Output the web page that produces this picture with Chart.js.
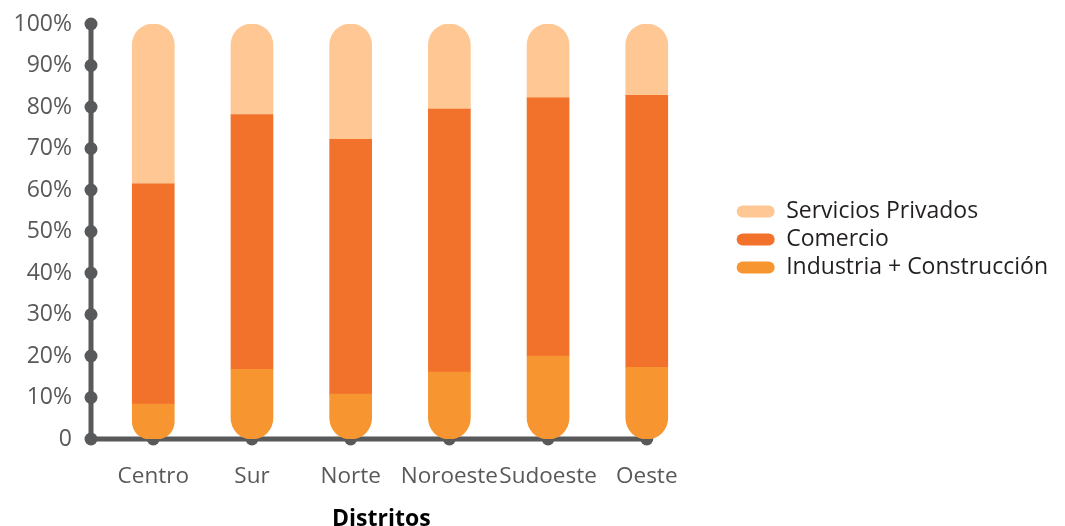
<!DOCTYPE html>
<html>
<head>
<meta charset="utf-8">
<script src="https://cdn.jsdelivr.net/npm/chart.js@4.4.1/dist/chart.umd.min.js"></script>
<style>
  html, body { margin: 0; padding: 0; background: #fff; }
  #wrap { width: 1065px; height: 526px; }
</style>
</head>
<body>
<div id="wrap"><canvas id="chart"></canvas></div>
<script>
// Data (share of each sector, %)
const districts = ['Centro', 'Sur', 'Norte', 'Noroeste', 'Sudoeste', 'Oeste'];
const industria = [8.4, 16.8, 10.8, 16.1, 20.0, 17.3];
const comercio = [53.1, 61.4, 61.4, 63.4, 62.2, 65.5];
const servicios = [38.5, 21.8, 27.8, 20.5, 17.8, 17.2];
const yTicks = [0, 10, 20, 30, 40, 50, 60, 70, 80, 90, 100];

const AXIS = '#58595b';
const FONT = "'Open Sans', sans-serif";

// bars sit on a linear index axis so the y axis can start left of the first bar
const toPoints = (values) => values.map((v, i) => ({ x: i, y: v }));

// Draw the grey axis lines with round dots at each tick
const axisDots = {
    id: 'axisDots',
    beforeDatasetsDraw(chart) {
        const { ctx, scales: { x, y } } = chart;
        const x0 = chart.chartArea.left + 1;
        const y0 = y.getPixelForValue(0);
        const xEnd = x.getPixelForValue(districts.length - 1);
        ctx.save();
        ctx.strokeStyle = AXIS;
        ctx.fillStyle = AXIS;
        ctx.lineWidth = 5;
        ctx.beginPath();
        ctx.moveTo(x0, y.getPixelForValue(100));
        ctx.lineTo(x0, y0);
        ctx.lineTo(xEnd, y0);
        ctx.stroke();
        yTicks.forEach((t) => {
            ctx.beginPath();
            ctx.arc(x0, y.getPixelForValue(t), 6.5, 0, Math.PI * 2);
            ctx.fill();
        });
        districts.forEach((d, i) => {
            ctx.beginPath();
            ctx.arc(x.getPixelForValue(i), y0, 6.5, 0, Math.PI * 2);
            ctx.fill();
        });
        ctx.restore();
    }
};

// the layout caps side boxes at a quarter of the width; let the legend be wider
// and nudge it where the original sits
const wideLegend = {
    id: 'wideLegend',
    beforeUpdate(chart) {
        const lg = chart.legend;
        if (lg && !lg._wide) {
            const update = lg.update;
            const draw = lg.draw;
            lg.update = function (w, h, m) {
                return update.call(this, Math.max(w, 360), h, m);
            };
            lg.draw = function () {
                this.ctx.save();
                this.ctx.translate(59, 8);
                draw.call(this);
                this.ctx.restore();
            };
            lg._wide = true;
        }
    }
};

const ctx = document.getElementById('chart').getContext('2d');
new Chart(ctx, {
    type: 'bar',
    data: {
        datasets: [
            {
                label: 'Industria + Construcción',
                data: toPoints(industria),
                backgroundColor: '#f79631',
                borderRadius: { bottomLeft: 21, bottomRight: 21 },
            },
            {
                label: 'Comercio',
                data: toPoints(comercio),
                backgroundColor: '#f2722c',
                borderRadius: 0,
            },
            {
                label: 'Servicios Privados',
                data: toPoints(servicios),
                backgroundColor: '#fec794',
                borderRadius: { topLeft: 21, topRight: 21 },
            },
        ],
    },
    options: {
        responsive: true,
        maintainAspectRatio: false,
        animation: false,
        devicePixelRatio: 1,
        layout: { padding: { top: 24, right: 66, bottom: 0, left: 0 } },
        datasets: {
            bar: { barThickness: 42, borderSkipped: false, borderWidth: 0 },
        },
        scales: {
            x: {
                type: 'linear',
                stacked: true,
                offset: false,
                bounds: 'data',
                grid: { display: false, drawTicks: false },
                border: { display: false },
                afterDataLimits: (scale) => {
                    // keep ~98.7px between district centres
                    scale.min = -0.641;
                    scale.max = -0.641 + scale.width / 98.7;
                },
                afterBuildTicks: (scale) => {
                    scale.ticks = districts.map((d, i) => ({ value: i }));
                },
                afterFit: (scale) => {
                    scale.height = 87;
                    scale.paddingLeft = 0;
                    scale.paddingRight = 0;
                },
                ticks: {
                    autoSkip: false,
                    maxRotation: 0,
                    padding: 24,
                    color: AXIS,
                    font: { family: FONT, size: 22.5 },
                    callback: (value) => districts[value],
                },
                title: {
                    display: true,
                    text: 'Distritos',
                    color: '#000',
                    padding: 0,
                    font: { family: FONT, size: 23, weight: 'bold', lineHeight: 0.6 },
                },
            },
            y: {
                stacked: true,
                min: 0,
                max: 100,
                grid: { display: false, drawTicks: false },
                border: { display: false },
                afterFit: (scale) => {
                    scale.width = 90;
                    scale.paddingTop = 0;
                    scale.paddingBottom = 0;
                },
                afterBuildTicks: (scale) => {
                    scale.ticks = yTicks.map((v) => ({ value: v }));
                },
                ticks: {
                    padding: 18,
                    color: AXIS,
                    font: { family: FONT, size: 23 },
                    callback: (value) => (value === 0 ? '0' : value + '%'),
                },
            },
        },
        plugins: {
            legend: {
                position: 'right',
                fullSize: false,
                reverse: true,
                labels: {
                    boxWidth: 38,
                    boxHeight: 12,
                    useBorderRadius: true,
                    borderRadius: 6,
                    padding: 5,
                    color: '#231f20',
                    font: { family: FONT, size: 23 },
                },
            },
            tooltip: { enabled: false },
        },
    },
    plugins: [axisDots, wideLegend],
});
</script>
</body>
</html>
